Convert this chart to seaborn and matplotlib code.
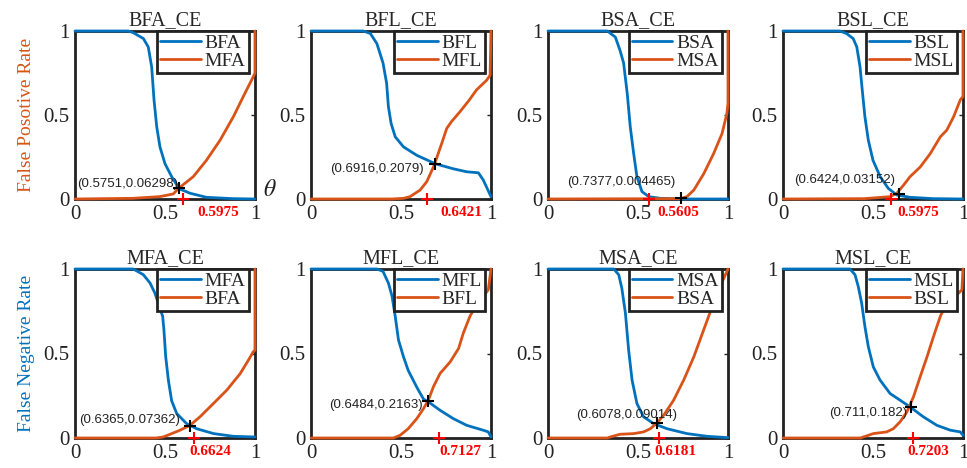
import numpy as np
import pandas as pd
import seaborn as sns
import matplotlib
matplotlib.use('Agg')
from matplotlib import pyplot as plt

# ---- data ----
titles = ['BFA_CE', 'BFL_CE', 'BSA_CE', 'BSL_CE', 'MFA_CE', 'MFL_CE', 'MSA_CE', 'MSL_CE']
blue_names = ['BFA', 'BFL', 'BSA', 'BSL', 'MFA', 'MFL', 'MSA', 'MSL']
orange_names = ['MFA', 'MFL', 'MSA', 'MSL', 'BFA', 'BFL', 'BSA', 'BSL']

# crossing points (black +) and thresholds (red +)
cross_x = [0.5751, 0.6916, 0.7377, 0.6424, 0.6365, 0.6484, 0.6078, 0.711]
cross_y = [0.06298, 0.2079, 0.004465, 0.03152, 0.07362, 0.2163, 0.09014, 0.182]
cross_labels = ['(0.5751,0.06298)', '(0.6916,0.2079)', '(0.7377,0.004465)', '(0.6424,0.03152)',
                '(0.6365,0.07362)', '(0.6484,0.2163)', '(0.6078,0.09014)', '(0.711,0.182)']
thresholds = [0.5975, 0.6421, 0.5605, 0.5975, 0.6624, 0.7127, 0.6181, 0.7203]
threshold_labels = ['0.5975', '0.6421', '0.5605', '0.5975', '0.6624', '0.7127', '0.6181', '0.7203']

# BFA_CE
bfa_blue_x = [0, 0.296, 0.324, 0.38, 0.407, 0.426, 0.439, 0.454, 0.472, 0.5, 0.537, 0.58, 0.64, 0.73, 0.88, 1]
bfa_blue_y = [1, 1, 0.99, 0.955, 0.905, 0.786, 0.59, 0.43, 0.31, 0.21, 0.133, 0.06, 0.034, 0.01, 0.002, 0]
bfa_orange_x = [0, 0.32, 0.47, 0.546, 0.5751, 0.657, 0.73, 0.806, 0.88, 0.935, 0.99, 1, 1]
bfa_orange_y = [0, 0.004, 0.014, 0.03, 0.063, 0.133, 0.23, 0.35, 0.49, 0.61, 0.727, 0.75, 1]

# BFL_CE
bfl_blue_x = [0, 0.29, 0.33, 0.366, 0.40, 0.42, 0.43, 0.445, 0.468, 0.514, 0.588, 0.69, 0.79, 0.865, 0.93, 0.957, 1]
bfl_blue_y = [1, 1, 0.985, 0.925, 0.81, 0.69, 0.55, 0.45, 0.37, 0.31, 0.26, 0.21, 0.18, 0.162, 0.156, 0.113, 0.014]
bfl_orange_x = [0, 0.45, 0.514, 0.55, 0.606, 0.643, 0.68, 0.70, 0.726, 0.754, 0.78, 0.828, 0.88, 0.92, 0.976, 0.995, 1]
bfl_orange_y = [0, 0, 0.004, 0.014, 0.053, 0.103, 0.19, 0.25, 0.33, 0.42, 0.46, 0.52, 0.59, 0.65, 0.707, 0.737, 1]

# BSA_CE
bsa_blue_x = [0, 0.33, 0.374, 0.40, 0.42, 0.44, 0.457, 0.476, 0.494, 0.522, 0.56, 0.624, 0.735, 1]
bsa_blue_y = [1, 1, 0.964, 0.885, 0.81, 0.63, 0.43, 0.27, 0.133, 0.044, 0.014, 0.004, 0.0, 0]
bsa_orange_x = [0, 0.735, 0.772, 0.81, 0.865, 0.92, 0.967, 0.994, 1, 1]
bsa_orange_y = [0, 0.002, 0.014, 0.053, 0.15, 0.27, 0.39, 0.51, 0.57, 1]

# BSL_CE
bsl_blue_x = [0, 0.316, 0.353, 0.39, 0.41, 0.428, 0.442, 0.455, 0.474, 0.50, 0.54, 0.585, 0.632, 0.706, 0.836, 1]
bsl_blue_y = [1, 1, 0.985, 0.955, 0.905, 0.786, 0.63, 0.49, 0.35, 0.23, 0.133, 0.063, 0.024, 0.01, 0.002, 0]
bsl_orange_x = [0, 0.45, 0.50, 0.595, 0.632, 0.67, 0.706, 0.762, 0.818, 0.874, 0.91, 0.948, 0.985, 1, 1]
bsl_orange_y = [0, 0.002, 0.006, 0.014, 0.034, 0.083, 0.133, 0.19, 0.27, 0.37, 0.41, 0.49, 0.59, 0.61, 1]

# MFA_CE
mfa_blue_x = [0, 0.324, 0.38, 0.417, 0.444, 0.468, 0.487, 0.494, 0.504, 0.519, 0.537, 0.565, 0.62, 0.676, 0.77, 0.88, 1]
mfa_blue_y = [1, 1, 0.966, 0.917, 0.857, 0.78, 0.72, 0.64, 0.48, 0.34, 0.22, 0.145, 0.085, 0.055, 0.026, 0.01, 0.006]
mfa_orange_x = [0, 0.45, 0.49, 0.528, 0.583, 0.639, 0.694, 0.769, 0.843, 0.917, 0.963, 0.99, 1, 1]
mfa_orange_y = [0, 0, 0.006, 0.022, 0.046, 0.075, 0.125, 0.204, 0.283, 0.38, 0.46, 0.51, 0.52, 1]

# MFL_CE
mfl_blue_x = [0, 0.366, 0.40, 0.43, 0.45, 0.468, 0.486, 0.514, 0.54, 0.588, 0.625, 0.652, 0.717, 0.79, 0.865, 0.957, 0.985, 1]
mfl_blue_y = [1, 1, 0.986, 0.917, 0.84, 0.72, 0.58, 0.48, 0.40, 0.30, 0.23, 0.214, 0.164, 0.115, 0.075, 0.046, 0.036, 0.006]
mfl_orange_x = [0, 0.458, 0.495, 0.54, 0.588, 0.625, 0.652, 0.68, 0.717, 0.773, 0.82, 0.846, 0.883, 0.92, 0.957, 0.985, 1]
mfl_orange_y = [0, 0, 0.016, 0.055, 0.115, 0.174, 0.224, 0.303, 0.382, 0.45, 0.53, 0.62, 0.72, 0.79, 0.838, 0.877, 1]

# MSA_CE
msa_blue_x = [0, 0.365, 0.393, 0.41, 0.43, 0.448, 0.467, 0.494, 0.531, 0.587, 0.661, 0.772, 0.883, 1]
msa_blue_y = [1, 1, 0.966, 0.887, 0.74, 0.52, 0.343, 0.204, 0.125, 0.085, 0.055, 0.026, 0.01, 0.002]
msa_orange_x = [0, 0.33, 0.346, 0.40, 0.476, 0.531, 0.569, 0.605, 0.643, 0.698, 0.754, 0.81, 0.865, 0.92, 0.957, 1]
msa_orange_y = [0, 0, 0.006, 0.022, 0.026, 0.036, 0.055, 0.089, 0.135, 0.224, 0.343, 0.48, 0.64, 0.80, 0.899, 1]

# MSL_CE
msl_blue_x = [0, 0.372, 0.40, 0.418, 0.437, 0.455, 0.474, 0.502, 0.539, 0.595, 0.65, 0.706, 0.78, 0.855, 0.93, 0.985, 1]
msl_blue_y = [1, 1, 0.966, 0.897, 0.798, 0.66, 0.54, 0.42, 0.343, 0.263, 0.224, 0.184, 0.125, 0.075, 0.046, 0.036, 0.016]
msl_orange_x = [0, 0.43, 0.446, 0.502, 0.576, 0.613, 0.65, 0.688, 0.725, 0.762, 0.80, 0.836, 0.874, 0.91, 0.966, 0.994, 1]
msl_orange_y = [0, 0, 0.006, 0.026, 0.036, 0.055, 0.095, 0.154, 0.244, 0.362, 0.48, 0.60, 0.72, 0.80, 0.847, 0.877, 1]

blue_x = [bfa_blue_x, bfl_blue_x, bsa_blue_x, bsl_blue_x, mfa_blue_x, mfl_blue_x, msa_blue_x, msl_blue_x]
blue_y = [bfa_blue_y, bfl_blue_y, bsa_blue_y, bsl_blue_y, mfa_blue_y, mfl_blue_y, msa_blue_y, msl_blue_y]
orange_x = [bfa_orange_x, bfl_orange_x, bsa_orange_x, bsl_orange_x, mfa_orange_x, mfl_orange_x, msa_orange_x, msl_orange_x]
orange_y = [bfa_orange_y, bfl_orange_y, bsa_orange_y, bsl_orange_y, mfa_orange_y, mfl_orange_y, msa_orange_y, msl_orange_y]

# ---- layout (placement of annotation texts, in data / axes coords) ----
cross_text_pos = [(0.575, 0.09), (0.625, 0.18), (0.71, 0.10), (0.625, 0.113),
                  (0.585, 0.105), (0.62, 0.198), (0.72, 0.139), (0.69, 0.149)]
thr_text_x = [0.796, 0.835, 0.724, 0.753, 0.754, 0.83, 0.709, 0.809]

BLUE = '#0072BD'
ORANGE = '#D95319'

sns.set_style('white')
plt.rcParams['font.family'] = ['Liberation Serif', 'DejaVu Serif']
plt.rcParams['mathtext.fontset'] = 'stix'

fig = plt.figure(figsize=(9.67, 4.68), dpi=100)
W, H = 967.0, 468.0
lefts = [75, 311, 548, 783]
rows = [(31, 199), (269, 438)]

for i in range(8):
    r, c = divmod(i, 4)
    top, bot = rows[r]
    ax = fig.add_axes([lefts[c] / W, 1 - bot / H, 180 / W, (bot - top) / H])

    df_b = pd.DataFrame({'theta': blue_x[i], 'rate': blue_y[i]})
    df_o = pd.DataFrame({'theta': orange_x[i], 'rate': orange_y[i]})
    sns.lineplot(data=df_b, x='theta', y='rate', ax=ax, color=BLUE, lw=2,
                 label=blue_names[i], sort=False, estimator=None)
    sns.lineplot(data=df_o, x='theta', y='rate', ax=ax, color=ORANGE, lw=2,
                 label=orange_names[i], sort=False, estimator=None)
    # curves sit on top of the frame, like MATLAB
    for ln in ax.lines:
        ln.set_zorder(3)
        ln.set_clip_on(False)

    ax.plot(cross_x[i], cross_y[i], '+', color='black', ms=8, mew=1.5, clip_on=False, zorder=5)
    ax.plot(thresholds[i], 0, '+', color='red', ms=8, mew=1.5, clip_on=False, zorder=5)
    tx, ty = cross_text_pos[i]
    ax.text(tx, ty, cross_labels[i], ha='right', va='center', fontsize=9.5,
            family='Liberation Sans', color='#222222')
    ax.text(thr_text_x[i], -0.078, threshold_labels[i], transform=ax.get_xaxis_transform(),
            ha='center', va='center', color='red', fontsize=11, fontweight='bold')

    ax.set_xlim(0, 1)
    ax.set_ylim(0, 1)
    ax.set_xticks([0, 0.5, 1])
    ax.set_yticks([0, 0.5, 1])
    ax.set_xticklabels(['0', '0.5', '1'])
    ax.set_yticklabels(['0', '0.5', '1'])
    ax.tick_params(direction='in', length=3, width=1, top=True, right=True,
                   labelsize=15, pad=4, colors='#222222')
    for s in ax.spines.values():
        s.set_linewidth(2)
        s.set_color('#222222')
    ax.set_xlabel('')
    ax.set_ylabel('')
    ax.set_title(titles[i], fontsize=14.5, pad=4)

    leg = ax.legend(loc='upper right', bbox_to_anchor=(0.965, 1.0), borderaxespad=0,
                    fontsize=14, handlelength=2.1, handletextpad=0.2, labelspacing=0.05,
                    borderpad=0.15, fancybox=False, framealpha=1)
    leg.get_frame().set_edgecolor('#222222')
    leg.get_frame().set_linewidth(2)
    leg.set_zorder(6)

    if i == 0:
        ax.set_ylabel('False Posotive Rate', color=ORANGE, fontsize=14, labelpad=6)
    if i == 4:
        ax.set_ylabel('False Negative Rate', color=BLUE, fontsize=14, labelpad=6)

fig.text(270 / W, 1 - 190 / H, r'$\theta$', fontsize=17, ha='center', va='center', color='#222222')

fig.savefig('out.png', dpi=100)
